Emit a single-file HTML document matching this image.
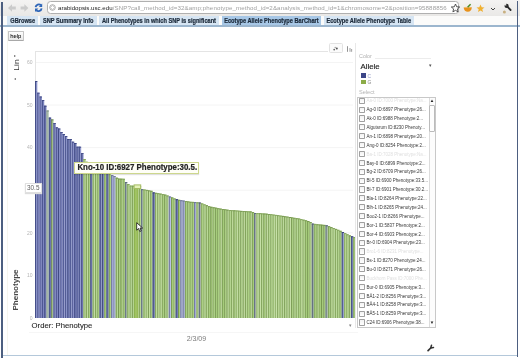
<!DOCTYPE html>
<html><head><meta charset="utf-8">
<style>
*{margin:0;padding:0;box-sizing:border-box}
html,body{width:520px;height:359px;overflow:hidden;background:#fff;font-family:"Liberation Sans",sans-serif;position:relative}
.a{position:absolute}
#toolbar{left:0;top:0;width:520px;height:15.5px;background:linear-gradient(#f4f3f2,#e9e8e6);}
#url{left:47.3px;top:1.2px;height:13.2px;border:1px solid #b0b0b0;border-radius:3.5px;background:#fff;width:411.5px}
#urltext{left:58px;top:4.4px;font-size:6.15px;color:#1a1a1a;white-space:nowrap;line-height:7px}
#urltext span{color:#a0a0a0;letter-spacing:0.11px;-webkit-text-stroke:0}
#tabrow{left:0;top:15.5px;width:520px;height:10px;background:#fbfbfa}
.tab{position:absolute;top:15.8px;height:9.8px;background:#d6e5f3;font-weight:bold;font-size:5.65px;color:#1c2a3a;line-height:11px;white-space:nowrap;text-align:center}
.tt{display:inline-block;transform:scaleY(1.12);-webkit-text-stroke:0.2px #1c2a3a}
#tabline{left:0;top:25.3px;width:520px;height:1.4px;background:#9cb6ce}
#lbar{left:1.2px;top:1.5px;width:1.7px;height:356px;background:#4d5f80}
#rbar{left:516.5px;top:1px;width:1.8px;height:356px;background:#4d5f80}
#bline{left:3px;top:355px;width:514px;height:1.3px;background:#b4c8da}
#help{left:8px;top:31.2px;width:15.6px;height:10px;border:1px solid #c4c4c4;border-bottom-color:#a8a8a8;border-radius:1px;background:linear-gradient(#fdfdfd,#e8e8e8);font-size:5.8px;line-height:8.4px;text-align:center;color:#111;-webkit-text-stroke:0.06px #111}
.row{position:absolute;left:358px;height:8.87px;width:70px}
.cb{position:absolute;left:1.3px;top:1.4px;width:6.2px;height:6.2px;border:0.8px solid #a0a0a0;background:linear-gradient(#f2f2f2,#fff);border-radius:0.8px}
.lt{position:absolute;left:8.5px;top:2.2px;font-size:4.5px;line-height:5px;color:#383838;white-space:nowrap}
.lt.g{color:#e0e0e0}
.yl{position:absolute;font-size:5px;color:#b4b4b4;width:10px;text-align:right;left:22.5px;line-height:5px}
</style></head><body style="will-change:transform">
<div id="toolbar" class="a"></div>
<!-- nav icons -->
<svg class="a" style="left:0;top:0" width="520" height="16">
  <path d="M8 8 L12 4.3 L12 6.5 L15.8 6.5 L15.8 9.5 L12 9.5 L12 11.7 Z" fill="#cbcbcb"/>
  <path d="M28.4 8 L24.4 4.3 L24.4 6.5 L20.6 6.5 L20.6 9.5 L24.4 9.5 L24.4 11.7 Z" fill="#cbcbcb"/>
  <path d="M35.6 7.2 A3.3 3.3 0 0 1 41 5.2" stroke="#2f66b8" stroke-width="1.9" fill="none"/>
  <path d="M42.2 3.4 L42.2 7 L38.8 7 Z" fill="#2f66b8"/>
  <path d="M41.6 8.3 A3.3 3.3 0 0 1 36.2 10.3" stroke="#2f66b8" stroke-width="1.9" fill="none"/>
  <path d="M35 12.1 L35 8.5 L38.4 8.5 Z" fill="#2f66b8"/>
</svg>
<div id="url" class="a"></div>
<svg class="a" style="left:49.3px;top:4.3px" width="8" height="8"><circle cx="3.5" cy="3.5" r="2.8" stroke="#888" stroke-width="0.7" fill="none"/><path d="M1.5 3.5 L3.5 1.5 L5.5 3.5 L3.5 5.5Z" fill="none" stroke="#999" stroke-width="0.5"/></svg>
<div id="urltext" class="a">arabidopsis.usc.edu<span>/SNP?call_method_id=32&amp;amp;phenotype_method_id=2&amp;analysis_method_id=1&amp;chromosome=2&amp;position=95888856</span></div>
<svg class="a" style="left:450.7px;top:3px" width="70" height="12">
  <path d="M4.5 1 L5.7 3.8 L8.7 4 L6.4 5.9 L7.1 8.9 L4.5 7.3 L1.9 8.9 L2.6 5.9 L0.3 4 L3.3 3.8 Z" fill="none" stroke="#444" stroke-width="0.9"/>
  <path d="M12.6 4.6 L20.8 4.2 Q20.6 8.6 16.8 8.8 Q13.2 8.8 12.6 4.6Z" fill="#e8921c"/>
  <path d="M13.2 4.6 Q15 3.2 16.6 4.4 Q18.4 3 20.4 4.3" fill="#f4b860"/>
  <path d="M16.6 4.2 L19.6 1.2" stroke="#4e8a22" stroke-width="1.5"/>
  <path d="M29.5 1.5 L30.7 4.2 L33.5 4.4 L31.3 6.2 L32 9 L29.5 7.5 L27 9 L27.7 6.2 L25.5 4.4 L28.3 4.2 Z" fill="#f0b030"/>
  <path d="M40 5 L42 7 L44 5" stroke="#444" stroke-width="1" fill="none"/>
  <circle cx="53.4" cy="9" r="1.5" fill="#c8b080"/>
  <path d="M56.6 3.9 L59.6 7" stroke="#2a2a2a" stroke-width="1.8" stroke-linecap="round" fill="none"/>
  <circle cx="55.6" cy="2.9" r="2.1" fill="#2a2a2a"/>
  <path d="M55.2 2.4 L53 0.2" stroke="#efeeec" stroke-width="1.3" fill="none"/>
</svg>
<div id="tabrow" class="a"></div>
<div class="tab" style="left:7.4px;width:30.6px"><span class="tt">GBrowse</span></div>
<div class="tab" style="left:39.7px;width:57.1px"><span class="tt">SNP Summary Info</span></div>
<div class="tab" style="left:99px;width:120px"><span class="tt">All Phenotypes in which SNP is significant</span></div>
<div class="tab" style="left:221.5px;width:99.8px;background:#a7c7e6"><span class="tt">Ecotype Allele Phenotype BarChart</span></div>
<div class="tab" style="left:323.5px;width:90.5px"><span class="tt">Ecotype Allele Phenotype Table</span></div>
<div id="tabline" class="a"></div>
<div id="help" class="a">help</div>

<!-- chart -->
<svg class="a" style="left:0;top:0" width="520" height="359">
  <line x1="35" y1="51.5" x2="328" y2="51.5" stroke="#e4e4e4" stroke-width="1"/>
  <line x1="35.5" y1="51.5" x2="35.5" y2="318" stroke="#e4e4e4" stroke-width="1"/>
  <line x1="36" y1="62.5" x2="353" y2="62.5" stroke="#f4f4f4" stroke-width="1"/><line x1="36" y1="105" x2="353" y2="105" stroke="#f4f4f4" stroke-width="1"/><line x1="36" y1="147.6" x2="353" y2="147.6" stroke="#f4f4f4" stroke-width="1"/><line x1="36" y1="190.2" x2="353" y2="190.2" stroke="#f4f4f4" stroke-width="1"/><line x1="36" y1="232.8" x2="353" y2="232.8" stroke="#f4f4f4" stroke-width="1"/><line x1="36" y1="275.4" x2="353" y2="275.4" stroke="#f4f4f4" stroke-width="1"/>
  <rect x="35.00" y="81.0" width="2.31" height="237.0" fill="#8a92c8"/>
<rect x="35.00" y="81.0" width="0.9" height="237.0" fill="#3e4882"/>
<rect x="35.00" y="81.0" width="2.31" height="1" fill="#3e4882"/>
<rect x="37.31" y="92.7" width="2.31" height="225.3" fill="#7e86c0"/>
<rect x="37.31" y="92.7" width="0.8" height="225.3" fill="#4a528c"/>
<rect x="39.31" y="93.7" width="0.3" height="224.3" fill="#ccd2f0"/>
<rect x="37.31" y="92.7" width="2.31" height="1" fill="#4a528c"/>
<rect x="39.61" y="96.5" width="2.31" height="221.5" fill="#7e86c0"/>
<rect x="39.61" y="96.5" width="0.8" height="221.5" fill="#4a528c"/>
<rect x="39.61" y="96.5" width="2.31" height="1" fill="#4a528c"/>
<rect x="41.92" y="100.0" width="2.31" height="218.0" fill="#7e86c0"/>
<rect x="41.92" y="100.0" width="0.9" height="218.0" fill="#444e88"/>
<rect x="41.92" y="100.0" width="2.31" height="1" fill="#444e88"/>
<rect x="44.23" y="105.7" width="2.31" height="212.3" fill="#767eb8"/>
<rect x="44.23" y="105.7" width="1.0" height="212.3" fill="#3e4882"/>
<rect x="46.08" y="106.7" width="0.45" height="211.3" fill="#ccd2f0"/>
<rect x="44.23" y="105.7" width="2.31" height="1" fill="#3e4882"/>
<rect x="46.53" y="110.5" width="2.31" height="207.5" fill="#b8ccb8"/>
<rect x="46.53" y="110.5" width="0.8" height="207.5" fill="#7a8a84"/>
<rect x="46.53" y="110.5" width="2.31" height="1" fill="#7a8a84"/>
<rect x="48.84" y="117.6" width="2.31" height="200.4" fill="#6e76b2"/>
<rect x="48.84" y="117.6" width="0.8" height="200.4" fill="#3e4882"/>
<rect x="48.84" y="117.6" width="2.31" height="1" fill="#3e4882"/>
<rect x="51.15" y="119.4" width="2.31" height="198.6" fill="#a4c08c"/>
<rect x="51.15" y="119.4" width="0.9" height="198.6" fill="#6c845c"/>
<rect x="51.15" y="119.4" width="2.31" height="1" fill="#6c845c"/>
<rect x="53.45" y="123.0" width="2.31" height="195.0" fill="#7e86c0"/>
<rect x="53.45" y="123.0" width="0.9" height="195.0" fill="#4a528c"/>
<rect x="53.45" y="123.0" width="2.31" height="1" fill="#4a528c"/>
<rect x="55.76" y="127.3" width="2.31" height="190.7" fill="#7e86c0"/>
<rect x="55.76" y="127.3" width="1.0" height="190.7" fill="#4a528c"/>
<rect x="55.76" y="127.3" width="2.31" height="1" fill="#4a528c"/>
<rect x="58.06" y="128.5" width="2.31" height="189.5" fill="#8a92c8"/>
<rect x="58.06" y="128.5" width="1.0" height="189.5" fill="#3e4882"/>
<rect x="58.06" y="128.5" width="2.31" height="1" fill="#3e4882"/>
<rect x="60.37" y="132.0" width="2.31" height="186.0" fill="#7e86c0"/>
<rect x="60.37" y="132.0" width="0.8" height="186.0" fill="#4a528c"/>
<rect x="62.23" y="133.0" width="0.45" height="185.0" fill="#ccd2f0"/>
<rect x="60.37" y="132.0" width="2.31" height="1" fill="#4a528c"/>
<rect x="62.68" y="134.0" width="2.31" height="184.0" fill="#6e76b2"/>
<rect x="62.68" y="134.0" width="0.9" height="184.0" fill="#444e88"/>
<rect x="64.53" y="135.0" width="0.45" height="183.0" fill="#ccd2f0"/>
<rect x="62.68" y="134.0" width="2.31" height="1" fill="#444e88"/>
<rect x="64.98" y="136.0" width="2.31" height="182.0" fill="#8a92c8"/>
<rect x="64.98" y="136.0" width="0.8" height="182.0" fill="#444e88"/>
<rect x="64.98" y="136.0" width="2.31" height="1" fill="#444e88"/>
<rect x="67.29" y="139.0" width="2.31" height="179.0" fill="#767eb8"/>
<rect x="67.29" y="139.0" width="1.0" height="179.0" fill="#3e4882"/>
<rect x="69.30" y="140.0" width="0.3" height="178.0" fill="#ccd2f0"/>
<rect x="67.29" y="139.0" width="2.31" height="1" fill="#3e4882"/>
<rect x="69.60" y="139.0" width="2.31" height="179.0" fill="#6e76b2"/>
<rect x="69.60" y="139.0" width="1.0" height="179.0" fill="#444e88"/>
<rect x="71.45" y="140.0" width="0.45" height="178.0" fill="#ccd2f0"/>
<rect x="69.60" y="139.0" width="2.31" height="1" fill="#444e88"/>
<rect x="71.90" y="141.7" width="2.31" height="176.3" fill="#8a92c8"/>
<rect x="71.90" y="141.7" width="0.8" height="176.3" fill="#4a528c"/>
<rect x="71.90" y="141.7" width="2.31" height="1" fill="#4a528c"/>
<rect x="74.21" y="143.0" width="2.31" height="175.0" fill="#6e76b2"/>
<rect x="74.21" y="143.0" width="0.9" height="175.0" fill="#3e4882"/>
<rect x="74.21" y="143.0" width="2.31" height="1" fill="#3e4882"/>
<rect x="76.52" y="146.7" width="2.31" height="171.3" fill="#6e76b2"/>
<rect x="76.52" y="146.7" width="0.8" height="171.3" fill="#444e88"/>
<rect x="76.52" y="146.7" width="2.31" height="1" fill="#444e88"/>
<rect x="78.82" y="146.7" width="2.31" height="171.3" fill="#8a92c8"/>
<rect x="78.82" y="146.7" width="1.0" height="171.3" fill="#444e88"/>
<rect x="80.83" y="147.7" width="0.3" height="170.3" fill="#ccd2f0"/>
<rect x="78.82" y="146.7" width="2.31" height="1" fill="#444e88"/>
<rect x="81.13" y="153.0" width="2.31" height="165.0" fill="#6e76b2"/>
<rect x="81.13" y="153.0" width="0.9" height="165.0" fill="#4a528c"/>
<rect x="81.13" y="153.0" width="2.31" height="1" fill="#4a528c"/>
<rect x="83.44" y="159.0" width="2.31" height="159.0" fill="#b4d490"/>
<rect x="83.44" y="159.0" width="0.9" height="159.0" fill="#86a660"/>
<rect x="83.44" y="159.0" width="2.31" height="1" fill="#86a660"/>
<rect x="85.74" y="161.8" width="2.31" height="156.2" fill="#b4d490"/>
<rect x="85.74" y="161.8" width="1.0" height="156.2" fill="#789852"/>
<rect x="87.75" y="162.8" width="0.3" height="155.2" fill="#e2eed0"/>
<rect x="85.74" y="161.8" width="2.31" height="1" fill="#789852"/>
<rect x="88.05" y="162.7" width="2.31" height="155.3" fill="#a6cc7c"/>
<rect x="88.05" y="162.7" width="1.0" height="155.3" fill="#86a660"/>
<rect x="89.91" y="163.7" width="0.45" height="154.3" fill="#e2eed0"/>
<rect x="88.05" y="162.7" width="2.31" height="1" fill="#86a660"/>
<rect x="90.36" y="163.6" width="2.31" height="154.4" fill="#7680b6"/>
<rect x="90.36" y="163.6" width="0.9" height="154.4" fill="#3a4476"/>
<rect x="92.36" y="164.6" width="0.3" height="153.4" fill="#d0d8ee"/>
<rect x="90.36" y="163.6" width="2.31" height="1" fill="#3a4476"/>
<rect x="92.66" y="164.5" width="2.31" height="153.5" fill="#acd084"/>
<rect x="92.66" y="164.5" width="0.8" height="153.5" fill="#789852"/>
<rect x="94.52" y="165.5" width="0.45" height="152.5" fill="#e2eed0"/>
<rect x="92.66" y="164.5" width="2.31" height="1" fill="#789852"/>
<rect x="94.97" y="165.6" width="2.31" height="152.4" fill="#b4d490"/>
<rect x="94.97" y="165.6" width="0.9" height="152.4" fill="#7e9e58"/>
<rect x="94.97" y="165.6" width="2.31" height="1" fill="#7e9e58"/>
<rect x="97.27" y="166.7" width="2.31" height="151.3" fill="#acd084"/>
<rect x="97.27" y="166.7" width="0.9" height="151.3" fill="#86a660"/>
<rect x="99.13" y="167.7" width="0.45" height="150.3" fill="#e2eed0"/>
<rect x="97.27" y="166.7" width="2.31" height="1" fill="#86a660"/>
<rect x="99.58" y="167.9" width="2.31" height="150.1" fill="#6e78b0"/>
<rect x="99.58" y="167.9" width="0.9" height="150.1" fill="#3a4476"/>
<rect x="101.44" y="168.9" width="0.45" height="149.1" fill="#d0d8ee"/>
<rect x="99.58" y="167.9" width="2.31" height="1" fill="#3a4476"/>
<rect x="101.89" y="169.0" width="2.31" height="149.0" fill="#7680b6"/>
<rect x="101.89" y="169.0" width="0.9" height="149.0" fill="#3a4476"/>
<rect x="103.89" y="170.0" width="0.3" height="148.0" fill="#d0d8ee"/>
<rect x="101.89" y="169.0" width="2.31" height="1" fill="#3a4476"/>
<rect x="104.19" y="170.2" width="2.31" height="147.8" fill="#a6cc7c"/>
<rect x="104.19" y="170.2" width="1.0" height="147.8" fill="#86a660"/>
<rect x="106.05" y="171.2" width="0.45" height="146.8" fill="#e2eed0"/>
<rect x="104.19" y="170.2" width="2.31" height="1" fill="#86a660"/>
<rect x="106.50" y="171.5" width="2.31" height="146.5" fill="#6e78b0"/>
<rect x="106.50" y="171.5" width="0.8" height="146.5" fill="#3a4476"/>
<rect x="106.50" y="171.5" width="2.31" height="1" fill="#3a4476"/>
<rect x="108.81" y="172.8" width="2.31" height="145.2" fill="#acd084"/>
<rect x="108.81" y="172.8" width="1.0" height="145.2" fill="#7e9e58"/>
<rect x="108.81" y="172.8" width="2.31" height="1" fill="#7e9e58"/>
<rect x="111.11" y="175.1" width="2.31" height="142.9" fill="#a8b0dc"/>
<rect x="111.11" y="175.1" width="1.0" height="142.9" fill="#707898"/>
<rect x="111.11" y="175.1" width="2.31" height="1" fill="#707898"/>
<rect x="113.42" y="176.1" width="2.31" height="141.9" fill="#b0b8e0"/>
<rect x="113.42" y="176.1" width="0.8" height="141.9" fill="#707898"/>
<rect x="113.42" y="176.1" width="2.31" height="1" fill="#707898"/>
<rect x="115.73" y="177.7" width="2.31" height="140.3" fill="#a6cc7c"/>
<rect x="115.73" y="177.7" width="0.9" height="140.3" fill="#789852"/>
<rect x="117.73" y="178.7" width="0.3" height="139.3" fill="#e2eed0"/>
<rect x="115.73" y="177.7" width="2.31" height="1" fill="#789852"/>
<rect x="118.03" y="178.6" width="2.31" height="139.4" fill="#acd084"/>
<rect x="118.03" y="178.6" width="1.0" height="139.4" fill="#789852"/>
<rect x="118.03" y="178.6" width="2.31" height="1" fill="#789852"/>
<rect x="120.34" y="178.7" width="2.31" height="139.3" fill="#a6cc7c"/>
<rect x="120.34" y="178.7" width="1.0" height="139.3" fill="#789852"/>
<rect x="122.20" y="179.7" width="0.45" height="138.3" fill="#e2eed0"/>
<rect x="120.34" y="178.7" width="2.31" height="1" fill="#789852"/>
<rect x="122.65" y="178.8" width="2.31" height="139.2" fill="#a6cc7c"/>
<rect x="122.65" y="178.8" width="0.9" height="139.2" fill="#86a660"/>
<rect x="122.65" y="178.8" width="2.31" height="1" fill="#86a660"/>
<rect x="124.95" y="182.0" width="2.31" height="136.0" fill="#9cb0a0"/>
<rect x="124.95" y="182.0" width="0.8" height="136.0" fill="#5e6a80"/>
<rect x="124.95" y="182.0" width="2.31" height="1" fill="#5e6a80"/>
<rect x="127.26" y="184.1" width="2.31" height="133.9" fill="#b4d490"/>
<rect x="127.26" y="184.1" width="0.9" height="133.9" fill="#7e9e58"/>
<rect x="127.26" y="184.1" width="2.31" height="1" fill="#7e9e58"/>
<rect x="129.57" y="185.6" width="2.31" height="132.4" fill="#b4d490"/>
<rect x="129.57" y="185.6" width="1.0" height="132.4" fill="#86a660"/>
<rect x="129.57" y="185.6" width="2.31" height="1" fill="#86a660"/>
<rect x="131.87" y="185.7" width="2.31" height="132.3" fill="#b4d490"/>
<rect x="131.87" y="185.7" width="1.0" height="132.3" fill="#7e9e58"/>
<rect x="131.87" y="185.7" width="2.31" height="1" fill="#7e9e58"/>
<rect x="134.18" y="185.8" width="2.31" height="132.2" fill="#a6cc64"/>
<rect x="134.18" y="185.8" width="1.0" height="132.2" fill="#86aa48"/>
<rect x="134.18" y="185.8" width="2.31" height="1" fill="#86aa48"/>
<rect x="136.48" y="185.9" width="2.31" height="132.1" fill="#a6cc64"/>
<rect x="136.48" y="185.9" width="1.0" height="132.1" fill="#86aa48"/>
<rect x="138.34" y="186.9" width="0.45" height="131.1" fill="#e4f0cc"/>
<rect x="136.48" y="185.9" width="2.31" height="1" fill="#86aa48"/>
<rect x="138.79" y="186.0" width="2.31" height="132.0" fill="#acd084"/>
<rect x="138.79" y="186.0" width="0.9" height="132.0" fill="#789852"/>
<rect x="140.80" y="187.0" width="0.3" height="131.0" fill="#e2eed0"/>
<rect x="138.79" y="186.0" width="2.31" height="1" fill="#789852"/>
<rect x="141.10" y="189.2" width="2.31" height="128.8" fill="#9cb0a0"/>
<rect x="141.10" y="189.2" width="0.8" height="128.8" fill="#5e6a80"/>
<rect x="141.10" y="189.2" width="2.31" height="1" fill="#5e6a80"/>
<rect x="143.40" y="189.5" width="2.31" height="128.5" fill="#a6cc7c"/>
<rect x="143.40" y="189.5" width="0.9" height="128.5" fill="#86a660"/>
<rect x="145.26" y="190.5" width="0.45" height="127.5" fill="#e2eed0"/>
<rect x="143.40" y="189.5" width="2.31" height="1" fill="#86a660"/>
<rect x="145.71" y="189.9" width="2.31" height="128.1" fill="#bcda98"/>
<rect x="145.71" y="189.9" width="0.8" height="128.1" fill="#7e9e58"/>
<rect x="145.71" y="189.9" width="2.31" height="1" fill="#7e9e58"/>
<rect x="148.02" y="190.4" width="2.31" height="127.6" fill="#bcda98"/>
<rect x="148.02" y="190.4" width="0.9" height="127.6" fill="#789852"/>
<rect x="149.87" y="191.4" width="0.45" height="126.6" fill="#e2eed0"/>
<rect x="148.02" y="190.4" width="2.31" height="1" fill="#789852"/>
<rect x="150.32" y="190.8" width="2.31" height="127.2" fill="#acd084"/>
<rect x="150.32" y="190.8" width="0.8" height="127.2" fill="#789852"/>
<rect x="150.32" y="190.8" width="2.31" height="1" fill="#789852"/>
<rect x="152.63" y="192.4" width="2.31" height="125.6" fill="#7680b6"/>
<rect x="152.63" y="192.4" width="1.0" height="125.6" fill="#3a4476"/>
<rect x="152.63" y="192.4" width="2.31" height="1" fill="#3a4476"/>
<rect x="154.94" y="192.8" width="2.31" height="125.2" fill="#bcda98"/>
<rect x="154.94" y="192.8" width="0.8" height="125.2" fill="#789852"/>
<rect x="156.94" y="193.8" width="0.3" height="124.2" fill="#e2eed0"/>
<rect x="154.94" y="192.8" width="2.31" height="1" fill="#789852"/>
<rect x="157.24" y="193.2" width="2.31" height="124.8" fill="#bcda98"/>
<rect x="157.24" y="193.2" width="0.9" height="124.8" fill="#7e9e58"/>
<rect x="157.24" y="193.2" width="2.31" height="1" fill="#7e9e58"/>
<rect x="159.55" y="193.6" width="2.31" height="124.4" fill="#bcda98"/>
<rect x="159.55" y="193.6" width="0.8" height="124.4" fill="#789852"/>
<rect x="159.55" y="193.6" width="2.31" height="1" fill="#789852"/>
<rect x="161.86" y="194.1" width="2.31" height="123.9" fill="#acd084"/>
<rect x="161.86" y="194.1" width="1.0" height="123.9" fill="#86a660"/>
<rect x="161.86" y="194.1" width="2.31" height="1" fill="#86a660"/>
<rect x="164.16" y="194.6" width="2.31" height="123.4" fill="#acd084"/>
<rect x="164.16" y="194.6" width="0.9" height="123.4" fill="#789852"/>
<rect x="166.17" y="195.6" width="0.3" height="122.4" fill="#e2eed0"/>
<rect x="164.16" y="194.6" width="2.31" height="1" fill="#789852"/>
<rect x="166.47" y="195.5" width="2.31" height="122.5" fill="#b4d490"/>
<rect x="166.47" y="195.5" width="0.9" height="122.5" fill="#7e9e58"/>
<rect x="168.33" y="196.5" width="0.45" height="121.5" fill="#e2eed0"/>
<rect x="166.47" y="195.5" width="2.31" height="1" fill="#7e9e58"/>
<rect x="168.78" y="196.5" width="2.31" height="121.5" fill="#b0b8e0"/>
<rect x="168.78" y="196.5" width="1.0" height="121.5" fill="#6a7298"/>
<rect x="170.78" y="197.5" width="0.3" height="120.5" fill="#e0e4f4"/>
<rect x="168.78" y="196.5" width="2.31" height="1" fill="#6a7298"/>
<rect x="171.08" y="197.4" width="2.31" height="120.6" fill="#a6cc7c"/>
<rect x="171.08" y="197.4" width="0.9" height="120.6" fill="#789852"/>
<rect x="173.09" y="198.4" width="0.3" height="119.6" fill="#e2eed0"/>
<rect x="171.08" y="197.4" width="2.31" height="1" fill="#789852"/>
<rect x="173.39" y="198.4" width="2.31" height="119.6" fill="#b4d490"/>
<rect x="173.39" y="198.4" width="0.8" height="119.6" fill="#7e9e58"/>
<rect x="173.39" y="198.4" width="2.31" height="1" fill="#7e9e58"/>
<rect x="175.69" y="199.2" width="2.31" height="118.8" fill="#7680b6"/>
<rect x="175.69" y="199.2" width="0.9" height="118.8" fill="#3a4476"/>
<rect x="175.69" y="199.2" width="2.31" height="1" fill="#3a4476"/>
<rect x="178.00" y="199.8" width="2.31" height="118.2" fill="#a6cc7c"/>
<rect x="178.00" y="199.8" width="1.0" height="118.2" fill="#789852"/>
<rect x="178.00" y="199.8" width="2.31" height="1" fill="#789852"/>
<rect x="180.31" y="200.2" width="2.31" height="117.8" fill="#b0b8e0"/>
<rect x="180.31" y="200.2" width="1.0" height="117.8" fill="#707898"/>
<rect x="180.31" y="200.2" width="2.31" height="1" fill="#707898"/>
<rect x="182.61" y="200.6" width="2.31" height="117.4" fill="#a8b0dc"/>
<rect x="182.61" y="200.6" width="1.0" height="117.4" fill="#707898"/>
<rect x="182.61" y="200.6" width="2.31" height="1" fill="#707898"/>
<rect x="184.92" y="201.0" width="2.31" height="117.0" fill="#a6cc7c"/>
<rect x="184.92" y="201.0" width="0.9" height="117.0" fill="#7e9e58"/>
<rect x="186.93" y="202.0" width="0.3" height="116.0" fill="#e2eed0"/>
<rect x="184.92" y="201.0" width="2.31" height="1" fill="#7e9e58"/>
<rect x="187.23" y="201.4" width="2.31" height="116.6" fill="#b4d490"/>
<rect x="187.23" y="201.4" width="0.9" height="116.6" fill="#789852"/>
<rect x="189.08" y="202.4" width="0.45" height="115.6" fill="#e2eed0"/>
<rect x="187.23" y="201.4" width="2.31" height="1" fill="#789852"/>
<rect x="189.53" y="201.8" width="2.31" height="116.2" fill="#a6cc7c"/>
<rect x="189.53" y="201.8" width="0.8" height="116.2" fill="#789852"/>
<rect x="189.53" y="201.8" width="2.31" height="1" fill="#789852"/>
<rect x="191.84" y="201.9" width="2.31" height="116.1" fill="#acd084"/>
<rect x="191.84" y="201.9" width="0.8" height="116.1" fill="#7e9e58"/>
<rect x="191.84" y="201.9" width="2.31" height="1" fill="#7e9e58"/>
<rect x="194.15" y="202.1" width="2.31" height="115.9" fill="#b0b8e0"/>
<rect x="194.15" y="202.1" width="1.0" height="115.9" fill="#6a7298"/>
<rect x="196.00" y="203.1" width="0.45" height="114.9" fill="#e0e4f4"/>
<rect x="194.15" y="202.1" width="2.31" height="1" fill="#6a7298"/>
<rect x="196.45" y="202.3" width="2.31" height="115.7" fill="#bcda98"/>
<rect x="196.45" y="202.3" width="1.0" height="115.7" fill="#7e9e58"/>
<rect x="196.45" y="202.3" width="2.31" height="1" fill="#7e9e58"/>
<rect x="198.76" y="202.5" width="2.31" height="115.5" fill="#a8b4a8"/>
<rect x="198.76" y="202.5" width="1.0" height="115.5" fill="#56627a"/>
<rect x="198.76" y="202.5" width="2.31" height="1" fill="#56627a"/>
<rect x="201.07" y="203.4" width="2.31" height="114.6" fill="#acd084"/>
<rect x="201.07" y="203.4" width="0.8" height="114.6" fill="#86a660"/>
<rect x="201.07" y="203.4" width="2.31" height="1" fill="#86a660"/>
<rect x="203.37" y="204.3" width="2.31" height="113.7" fill="#b4d490"/>
<rect x="203.37" y="204.3" width="0.8" height="113.7" fill="#86a660"/>
<rect x="205.38" y="205.3" width="0.3" height="112.7" fill="#e2eed0"/>
<rect x="203.37" y="204.3" width="2.31" height="1" fill="#86a660"/>
<rect x="205.68" y="205.2" width="2.31" height="112.8" fill="#acd084"/>
<rect x="205.68" y="205.2" width="0.9" height="112.8" fill="#789852"/>
<rect x="207.69" y="206.2" width="0.3" height="111.8" fill="#e2eed0"/>
<rect x="205.68" y="205.2" width="2.31" height="1" fill="#789852"/>
<rect x="207.99" y="206.2" width="2.31" height="111.8" fill="#a6cc7c"/>
<rect x="207.99" y="206.2" width="0.8" height="111.8" fill="#7e9e58"/>
<rect x="209.99" y="207.2" width="0.3" height="110.8" fill="#e2eed0"/>
<rect x="207.99" y="206.2" width="2.31" height="1" fill="#7e9e58"/>
<rect x="210.29" y="206.8" width="2.31" height="111.2" fill="#a6cc7c"/>
<rect x="210.29" y="206.8" width="1.0" height="111.2" fill="#789852"/>
<rect x="212.15" y="207.8" width="0.45" height="110.2" fill="#e2eed0"/>
<rect x="210.29" y="206.8" width="2.31" height="1" fill="#789852"/>
<rect x="212.60" y="207.3" width="2.31" height="110.7" fill="#acd084"/>
<rect x="212.60" y="207.3" width="0.8" height="110.7" fill="#789852"/>
<rect x="212.60" y="207.3" width="2.31" height="1" fill="#789852"/>
<rect x="214.91" y="207.7" width="2.31" height="110.3" fill="#a6cc7c"/>
<rect x="214.91" y="207.7" width="1.0" height="110.3" fill="#7e9e58"/>
<rect x="214.91" y="207.7" width="2.31" height="1" fill="#7e9e58"/>
<rect x="217.21" y="208.2" width="2.31" height="109.8" fill="#acd084"/>
<rect x="217.21" y="208.2" width="0.8" height="109.8" fill="#7e9e58"/>
<rect x="219.07" y="209.2" width="0.45" height="108.8" fill="#e2eed0"/>
<rect x="217.21" y="208.2" width="2.31" height="1" fill="#7e9e58"/>
<rect x="219.52" y="208.6" width="2.31" height="109.4" fill="#b4d490"/>
<rect x="219.52" y="208.6" width="0.8" height="109.4" fill="#789852"/>
<rect x="221.52" y="209.6" width="0.3" height="108.4" fill="#e2eed0"/>
<rect x="219.52" y="208.6" width="2.31" height="1" fill="#789852"/>
<rect x="221.82" y="209.0" width="2.31" height="109.0" fill="#a6cc7c"/>
<rect x="221.82" y="209.0" width="1.0" height="109.0" fill="#7e9e58"/>
<rect x="221.82" y="209.0" width="2.31" height="1" fill="#7e9e58"/>
<rect x="224.13" y="209.3" width="2.31" height="108.7" fill="#acd084"/>
<rect x="224.13" y="209.3" width="0.9" height="108.7" fill="#7e9e58"/>
<rect x="224.13" y="209.3" width="2.31" height="1" fill="#7e9e58"/>
<rect x="226.44" y="209.7" width="2.31" height="108.3" fill="#b4d490"/>
<rect x="226.44" y="209.7" width="0.9" height="108.3" fill="#789852"/>
<rect x="226.44" y="209.7" width="2.31" height="1" fill="#789852"/>
<rect x="228.74" y="210.0" width="2.31" height="108.0" fill="#b4d490"/>
<rect x="228.74" y="210.0" width="0.9" height="108.0" fill="#86a660"/>
<rect x="228.74" y="210.0" width="2.31" height="1" fill="#86a660"/>
<rect x="231.05" y="210.2" width="2.31" height="107.8" fill="#bcda98"/>
<rect x="231.05" y="210.2" width="1.0" height="107.8" fill="#86a660"/>
<rect x="232.91" y="211.2" width="0.45" height="106.8" fill="#e2eed0"/>
<rect x="231.05" y="210.2" width="2.31" height="1" fill="#86a660"/>
<rect x="233.36" y="210.3" width="2.31" height="107.7" fill="#acd084"/>
<rect x="233.36" y="210.3" width="1.0" height="107.7" fill="#789852"/>
<rect x="235.36" y="211.3" width="0.3" height="106.7" fill="#e2eed0"/>
<rect x="233.36" y="210.3" width="2.31" height="1" fill="#789852"/>
<rect x="235.66" y="210.5" width="2.31" height="107.5" fill="#acd084"/>
<rect x="235.66" y="210.5" width="0.8" height="107.5" fill="#86a660"/>
<rect x="237.52" y="211.5" width="0.45" height="106.5" fill="#e2eed0"/>
<rect x="235.66" y="210.5" width="2.31" height="1" fill="#86a660"/>
<rect x="237.97" y="210.7" width="2.31" height="107.3" fill="#b4d490"/>
<rect x="237.97" y="210.7" width="0.9" height="107.3" fill="#86a660"/>
<rect x="239.98" y="211.7" width="0.3" height="106.3" fill="#e2eed0"/>
<rect x="237.97" y="210.7" width="2.31" height="1" fill="#86a660"/>
<rect x="240.28" y="210.9" width="2.31" height="107.1" fill="#b4d490"/>
<rect x="240.28" y="210.9" width="0.8" height="107.1" fill="#789852"/>
<rect x="242.13" y="211.9" width="0.45" height="106.1" fill="#e2eed0"/>
<rect x="240.28" y="210.9" width="2.31" height="1" fill="#789852"/>
<rect x="242.58" y="211.0" width="2.31" height="107.0" fill="#b4d490"/>
<rect x="242.58" y="211.0" width="1.0" height="107.0" fill="#7e9e58"/>
<rect x="244.59" y="212.0" width="0.3" height="106.0" fill="#e2eed0"/>
<rect x="242.58" y="211.0" width="2.31" height="1" fill="#7e9e58"/>
<rect x="244.89" y="211.2" width="2.31" height="106.8" fill="#b4d490"/>
<rect x="244.89" y="211.2" width="1.0" height="106.8" fill="#7e9e58"/>
<rect x="246.90" y="212.2" width="0.3" height="105.8" fill="#e2eed0"/>
<rect x="244.89" y="211.2" width="2.31" height="1" fill="#7e9e58"/>
<rect x="247.20" y="211.3" width="2.31" height="106.7" fill="#acd084"/>
<rect x="247.20" y="211.3" width="0.8" height="106.7" fill="#86a660"/>
<rect x="249.05" y="212.3" width="0.45" height="105.7" fill="#e2eed0"/>
<rect x="247.20" y="211.3" width="2.31" height="1" fill="#86a660"/>
<rect x="249.50" y="211.4" width="2.31" height="106.6" fill="#acd084"/>
<rect x="249.50" y="211.4" width="0.8" height="106.6" fill="#789852"/>
<rect x="251.36" y="212.4" width="0.45" height="105.6" fill="#e2eed0"/>
<rect x="249.50" y="211.4" width="2.31" height="1" fill="#789852"/>
<rect x="251.81" y="212.0" width="2.31" height="106.0" fill="#a6cc7c"/>
<rect x="251.81" y="212.0" width="1.0" height="106.0" fill="#7e9e58"/>
<rect x="251.81" y="212.0" width="2.31" height="1" fill="#7e9e58"/>
<rect x="254.12" y="213.0" width="2.31" height="105.0" fill="#a8b4a8"/>
<rect x="254.12" y="213.0" width="1.0" height="105.0" fill="#5e6a80"/>
<rect x="255.97" y="214.0" width="0.45" height="104.0" fill="#e0e8e0"/>
<rect x="254.12" y="213.0" width="2.31" height="1" fill="#5e6a80"/>
<rect x="256.42" y="213.1" width="2.31" height="104.9" fill="#bcda98"/>
<rect x="256.42" y="213.1" width="0.8" height="104.9" fill="#86a660"/>
<rect x="258.43" y="214.1" width="0.3" height="103.9" fill="#e2eed0"/>
<rect x="256.42" y="213.1" width="2.31" height="1" fill="#86a660"/>
<rect x="258.73" y="213.2" width="2.31" height="104.8" fill="#bcda98"/>
<rect x="258.73" y="213.2" width="1.0" height="104.8" fill="#7e9e58"/>
<rect x="260.73" y="214.2" width="0.3" height="103.8" fill="#e2eed0"/>
<rect x="258.73" y="213.2" width="2.31" height="1" fill="#7e9e58"/>
<rect x="261.03" y="213.4" width="2.31" height="104.6" fill="#b4d490"/>
<rect x="261.03" y="213.4" width="1.0" height="104.6" fill="#86a660"/>
<rect x="262.89" y="214.4" width="0.45" height="103.6" fill="#e2eed0"/>
<rect x="261.03" y="213.4" width="2.31" height="1" fill="#86a660"/>
<rect x="263.34" y="213.5" width="2.31" height="104.5" fill="#a6cc7c"/>
<rect x="263.34" y="213.5" width="0.8" height="104.5" fill="#789852"/>
<rect x="265.20" y="214.5" width="0.45" height="103.5" fill="#e2eed0"/>
<rect x="263.34" y="213.5" width="2.31" height="1" fill="#789852"/>
<rect x="265.65" y="213.7" width="2.31" height="104.3" fill="#bcda98"/>
<rect x="265.65" y="213.7" width="1.0" height="104.3" fill="#789852"/>
<rect x="267.65" y="214.7" width="0.3" height="103.3" fill="#e2eed0"/>
<rect x="265.65" y="213.7" width="2.31" height="1" fill="#789852"/>
<rect x="267.95" y="214.0" width="2.31" height="104.0" fill="#b4d490"/>
<rect x="267.95" y="214.0" width="0.8" height="104.0" fill="#7e9e58"/>
<rect x="267.95" y="214.0" width="2.31" height="1" fill="#7e9e58"/>
<rect x="270.26" y="214.2" width="2.31" height="103.8" fill="#b4d490"/>
<rect x="270.26" y="214.2" width="0.9" height="103.8" fill="#86a660"/>
<rect x="270.26" y="214.2" width="2.31" height="1" fill="#86a660"/>
<rect x="272.57" y="214.6" width="2.31" height="103.4" fill="#acd084"/>
<rect x="272.57" y="214.6" width="0.8" height="103.4" fill="#86a660"/>
<rect x="274.42" y="215.6" width="0.45" height="102.4" fill="#e2eed0"/>
<rect x="272.57" y="214.6" width="2.31" height="1" fill="#86a660"/>
<rect x="274.87" y="214.9" width="2.31" height="103.1" fill="#bcda98"/>
<rect x="274.87" y="214.9" width="0.8" height="103.1" fill="#86a660"/>
<rect x="276.73" y="215.9" width="0.45" height="102.1" fill="#e2eed0"/>
<rect x="274.87" y="214.9" width="2.31" height="1" fill="#86a660"/>
<rect x="277.18" y="215.2" width="2.31" height="102.8" fill="#bcda98"/>
<rect x="277.18" y="215.2" width="0.9" height="102.8" fill="#7e9e58"/>
<rect x="277.18" y="215.2" width="2.31" height="1" fill="#7e9e58"/>
<rect x="279.49" y="215.6" width="2.31" height="102.4" fill="#acd084"/>
<rect x="279.49" y="215.6" width="0.8" height="102.4" fill="#86a660"/>
<rect x="281.49" y="216.6" width="0.3" height="101.4" fill="#e2eed0"/>
<rect x="279.49" y="215.6" width="2.31" height="1" fill="#86a660"/>
<rect x="281.79" y="215.9" width="2.31" height="102.1" fill="#b4d490"/>
<rect x="281.79" y="215.9" width="0.8" height="102.1" fill="#789852"/>
<rect x="283.80" y="216.9" width="0.3" height="101.1" fill="#e2eed0"/>
<rect x="281.79" y="215.9" width="2.31" height="1" fill="#789852"/>
<rect x="284.10" y="216.3" width="2.31" height="101.7" fill="#b4d490"/>
<rect x="284.10" y="216.3" width="0.8" height="101.7" fill="#789852"/>
<rect x="284.10" y="216.3" width="2.31" height="1" fill="#789852"/>
<rect x="286.41" y="216.6" width="2.31" height="101.4" fill="#bcda98"/>
<rect x="286.41" y="216.6" width="0.9" height="101.4" fill="#7e9e58"/>
<rect x="286.41" y="216.6" width="2.31" height="1" fill="#7e9e58"/>
<rect x="288.71" y="217.0" width="2.31" height="101.0" fill="#bcda98"/>
<rect x="288.71" y="217.0" width="0.9" height="101.0" fill="#789852"/>
<rect x="290.72" y="218.0" width="0.3" height="100.0" fill="#e2eed0"/>
<rect x="288.71" y="217.0" width="2.31" height="1" fill="#789852"/>
<rect x="291.02" y="217.4" width="2.31" height="100.6" fill="#acd084"/>
<rect x="291.02" y="217.4" width="1.0" height="100.6" fill="#7e9e58"/>
<rect x="291.02" y="217.4" width="2.31" height="1" fill="#7e9e58"/>
<rect x="293.33" y="217.8" width="2.31" height="100.2" fill="#b4d490"/>
<rect x="293.33" y="217.8" width="0.9" height="100.2" fill="#7e9e58"/>
<rect x="293.33" y="217.8" width="2.31" height="1" fill="#7e9e58"/>
<rect x="295.63" y="218.2" width="2.31" height="99.8" fill="#acd084"/>
<rect x="295.63" y="218.2" width="0.9" height="99.8" fill="#7e9e58"/>
<rect x="297.64" y="219.2" width="0.3" height="98.8" fill="#e2eed0"/>
<rect x="295.63" y="218.2" width="2.31" height="1" fill="#7e9e58"/>
<rect x="297.94" y="218.5" width="2.31" height="99.5" fill="#acd084"/>
<rect x="297.94" y="218.5" width="0.9" height="99.5" fill="#86a660"/>
<rect x="297.94" y="218.5" width="2.31" height="1" fill="#86a660"/>
<rect x="300.24" y="219.1" width="2.31" height="98.9" fill="#bcda98"/>
<rect x="300.24" y="219.1" width="0.8" height="98.9" fill="#86a660"/>
<rect x="302.25" y="220.1" width="0.3" height="97.9" fill="#e2eed0"/>
<rect x="300.24" y="219.1" width="2.31" height="1" fill="#86a660"/>
<rect x="302.55" y="219.7" width="2.31" height="98.3" fill="#b4d490"/>
<rect x="302.55" y="219.7" width="0.8" height="98.3" fill="#7e9e58"/>
<rect x="302.55" y="219.7" width="2.31" height="1" fill="#7e9e58"/>
<rect x="304.86" y="220.3" width="2.31" height="97.7" fill="#a6cc7c"/>
<rect x="304.86" y="220.3" width="0.9" height="97.7" fill="#7e9e58"/>
<rect x="304.86" y="220.3" width="2.31" height="1" fill="#7e9e58"/>
<rect x="307.16" y="221.0" width="2.31" height="97.0" fill="#a6cc7c"/>
<rect x="307.16" y="221.0" width="0.9" height="97.0" fill="#789852"/>
<rect x="309.02" y="222.0" width="0.45" height="96.0" fill="#e2eed0"/>
<rect x="307.16" y="221.0" width="2.31" height="1" fill="#789852"/>
<rect x="309.47" y="222.1" width="2.31" height="95.9" fill="#bcda98"/>
<rect x="309.47" y="222.1" width="0.8" height="95.9" fill="#789852"/>
<rect x="309.47" y="222.1" width="2.31" height="1" fill="#789852"/>
<rect x="311.78" y="223.6" width="2.31" height="94.4" fill="#9cb0a0"/>
<rect x="311.78" y="223.6" width="1.0" height="94.4" fill="#56627a"/>
<rect x="311.78" y="223.6" width="2.31" height="1" fill="#56627a"/>
<rect x="314.08" y="223.9" width="2.31" height="94.1" fill="#a6cc7c"/>
<rect x="314.08" y="223.9" width="0.8" height="94.1" fill="#86a660"/>
<rect x="314.08" y="223.9" width="2.31" height="1" fill="#86a660"/>
<rect x="316.39" y="224.2" width="2.31" height="93.8" fill="#b4d490"/>
<rect x="316.39" y="224.2" width="1.0" height="93.8" fill="#7e9e58"/>
<rect x="318.40" y="225.2" width="0.3" height="92.8" fill="#e2eed0"/>
<rect x="316.39" y="224.2" width="2.31" height="1" fill="#7e9e58"/>
<rect x="318.70" y="224.5" width="2.31" height="93.5" fill="#a6cc7c"/>
<rect x="318.70" y="224.5" width="0.8" height="93.5" fill="#7e9e58"/>
<rect x="318.70" y="224.5" width="2.31" height="1" fill="#7e9e58"/>
<rect x="321.00" y="224.7" width="2.31" height="93.3" fill="#a6cc7c"/>
<rect x="321.00" y="224.7" width="1.0" height="93.3" fill="#789852"/>
<rect x="323.01" y="225.7" width="0.3" height="92.3" fill="#e2eed0"/>
<rect x="321.00" y="224.7" width="2.31" height="1" fill="#789852"/>
<rect x="323.31" y="224.9" width="2.31" height="93.1" fill="#acd084"/>
<rect x="323.31" y="224.9" width="0.9" height="93.1" fill="#789852"/>
<rect x="323.31" y="224.9" width="2.31" height="1" fill="#789852"/>
<rect x="325.62" y="225.3" width="2.31" height="92.7" fill="#9cb0a0"/>
<rect x="325.62" y="225.3" width="0.8" height="92.7" fill="#56627a"/>
<rect x="327.62" y="226.3" width="0.3" height="91.7" fill="#e0e8e0"/>
<rect x="325.62" y="225.3" width="2.31" height="1" fill="#56627a"/>
<rect x="327.92" y="226.2" width="2.31" height="91.8" fill="#a6cc7c"/>
<rect x="327.92" y="226.2" width="0.9" height="91.8" fill="#7e9e58"/>
<rect x="329.93" y="227.2" width="0.3" height="90.8" fill="#e2eed0"/>
<rect x="327.92" y="226.2" width="2.31" height="1" fill="#7e9e58"/>
<rect x="330.23" y="227.1" width="2.31" height="90.9" fill="#bcda98"/>
<rect x="330.23" y="227.1" width="0.9" height="90.9" fill="#789852"/>
<rect x="330.23" y="227.1" width="2.31" height="1" fill="#789852"/>
<rect x="332.54" y="228.0" width="2.31" height="90.0" fill="#b4d490"/>
<rect x="332.54" y="228.0" width="0.8" height="90.0" fill="#86a660"/>
<rect x="334.54" y="229.0" width="0.3" height="89.0" fill="#e2eed0"/>
<rect x="332.54" y="228.0" width="2.31" height="1" fill="#86a660"/>
<rect x="334.84" y="228.9" width="2.31" height="89.1" fill="#acd084"/>
<rect x="334.84" y="228.9" width="0.9" height="89.1" fill="#7e9e58"/>
<rect x="336.70" y="229.9" width="0.45" height="88.1" fill="#e2eed0"/>
<rect x="334.84" y="228.9" width="2.31" height="1" fill="#7e9e58"/>
<rect x="337.15" y="229.8" width="2.31" height="88.2" fill="#b4d490"/>
<rect x="337.15" y="229.8" width="0.9" height="88.2" fill="#86a660"/>
<rect x="337.15" y="229.8" width="2.31" height="1" fill="#86a660"/>
<rect x="339.45" y="230.8" width="2.31" height="87.2" fill="#acd084"/>
<rect x="339.45" y="230.8" width="0.8" height="87.2" fill="#789852"/>
<rect x="339.45" y="230.8" width="2.31" height="1" fill="#789852"/>
<rect x="341.76" y="232.0" width="2.31" height="86.0" fill="#7680b6"/>
<rect x="341.76" y="232.0" width="0.8" height="86.0" fill="#3a4476"/>
<rect x="343.62" y="233.0" width="0.45" height="85.0" fill="#d0d8ee"/>
<rect x="341.76" y="232.0" width="2.31" height="1" fill="#3a4476"/>
<rect x="344.07" y="233.1" width="2.31" height="84.9" fill="#b4d490"/>
<rect x="344.07" y="233.1" width="0.8" height="84.9" fill="#86a660"/>
<rect x="346.07" y="234.1" width="0.3" height="83.9" fill="#e2eed0"/>
<rect x="344.07" y="233.1" width="2.31" height="1" fill="#86a660"/>
<rect x="346.37" y="234.3" width="2.31" height="83.7" fill="#bcda98"/>
<rect x="346.37" y="234.3" width="0.8" height="83.7" fill="#789852"/>
<rect x="346.37" y="234.3" width="2.31" height="1" fill="#789852"/>
<rect x="348.68" y="235.4" width="2.31" height="82.6" fill="#acd084"/>
<rect x="348.68" y="235.4" width="1.0" height="82.6" fill="#789852"/>
<rect x="350.54" y="236.4" width="0.45" height="81.6" fill="#e2eed0"/>
<rect x="348.68" y="235.4" width="2.31" height="1" fill="#789852"/>
<rect x="350.99" y="236.3" width="2.31" height="81.7" fill="#7680b6"/>
<rect x="350.99" y="236.3" width="0.8" height="81.7" fill="#404a7e"/>
<rect x="352.99" y="237.3" width="0.3" height="80.7" fill="#d0d8ee"/>
<rect x="350.99" y="236.3" width="2.31" height="1" fill="#404a7e"/>
<rect x="353.29" y="237.1" width="2.31" height="80.9" fill="#acd084"/>
<rect x="353.29" y="237.1" width="1.0" height="80.9" fill="#7e9e58"/>
<rect x="355.15" y="238.1" width="0.45" height="79.9" fill="#e2eed0"/>
<rect x="353.29" y="237.1" width="2.31" height="1" fill="#7e9e58"/>
  <!-- highlighted bar -->
  <rect x="134.1" y="184.9" width="6.6" height="3.6" fill="#e4f2b8" stroke="#a4ba62" stroke-width="1"/>
</svg>
<!-- y labels -->
<div class="yl" style="top:60px">60</div>
<div class="yl" style="top:102.5px">50</div>
<div class="yl" style="top:145px">40</div>
<div class="yl" style="top:230.5px">20</div>
<div class="yl" style="top:273px">10</div>
<div class="yl" style="top:315.5px">0</div>
<!-- 30.5 label -->
<div class="a" style="left:24.5px;top:182.5px;width:17.5px;height:10.5px;background:#fff;border:1px solid #e0e0e0;box-shadow:0 1px 1px #ddd;font-size:6.4px;line-height:8.5px;color:#606060;text-align:center">30.5</div>
<!-- axis title -->
<div class="a" style="left:15.8px;top:64.8px;transform:translate(-50%,-50%) rotate(-90deg) scaleX(1.12);font-size:7.6px;color:#333;white-space:nowrap">Lin</div>
<div class="a" style="left:13.7px;top:52.5px;font-size:4px;color:#666">&#9656;</div>
<div class="a" style="left:13.7px;top:75.8px;font-size:4px;color:#666">&#9666;</div>
<div class="a" style="left:15.4px;top:290.4px;transform:translate(-50%,-50%) rotate(-90deg) scaleX(1.12);font-size:7.2px;font-weight:bold;color:#484848;white-space:nowrap">Phenotype</div>
<div class="a" style="left:31.6px;top:321.3px;font-size:7.7px;color:#262626;-webkit-text-stroke:0.1px #262626;white-space:nowrap">Order: Phenotype</div>
<div class="a" style="left:186.7px;top:334.7px;font-size:7px;color:#7a7a7a;white-space:nowrap">2/3/09</div>
<div class="a" style="left:349px;top:322px;font-size:5px;color:#888">&#9662;</div>
<div class="a" style="left:29px;top:332px;width:329px;height:1px;background:#f6f6f6"></div>
<div class="a" style="left:7px;top:30px;width:0.8px;height:326px;background:#f6f6ef"></div>
<!-- tooltip -->
<div class="a" style="left:74.4px;top:162.4px;width:124.8px;height:12.1px;background:#fefef6;border:1px solid #cdd78c;box-shadow:0 1px 1px rgba(0,0,0,0.12);font-size:7.9px;font-weight:bold;color:#222;line-height:10px;padding-left:2px;white-space:nowrap"><span style="display:inline-block;transform:scaleY(1.17);-webkit-text-stroke:0.2px #222">Kno-10 ID:6927 Phenotype:30.5.</span></div>
<!-- top-right chart icons -->
<div class="a" style="left:328.6px;top:43.4px;width:14.4px;height:9.6px;border:1px solid #e2e2e2;border-radius:1.5px;background:#fbfbfb"></div>
<svg class="a" style="left:329px;top:44px" width="26" height="10">
  <circle cx="5.2" cy="5.6" r="0.9" fill="#666"/><circle cx="7.8" cy="4.4" r="1" fill="#555"/><circle cx="6.2" cy="3.4" r="0.7" fill="#999"/>
  <rect x="18" y="2.2" width="0.8" height="5.6" fill="#777"/><rect x="20.6" y="4" width="0.8" height="3.8" fill="#888"/><rect x="22.3" y="5" width="0.8" height="2.8" fill="#888"/>
</svg>
<!-- right panel -->
<div class="a" style="left:354.5px;top:42.7px;width:1px;height:285px;background:#e8e8e8"></div>
<div class="a" style="left:359px;top:53px;font-size:5.4px;color:#b0b0b0">Color</div>
<div class="a" style="left:375px;top:57.8px;width:56px;height:0.8px;background:#ececec"></div>
<div class="a" style="left:360.6px;top:61.8px;font-size:7.8px;color:#1a1a1a;-webkit-text-stroke:0.15px #1a1a1a">Allele</div>
<div class="a" style="left:429px;top:62px;font-size:5px;color:#555">&#9662;</div>
<div class="a" style="left:361px;top:73.3px;width:4.6px;height:4.3px;background:#3c4688"></div>
<div class="a" style="left:367.5px;top:72.6px;font-size:5px;color:#9aa0c8">C</div>
<div class="a" style="left:361px;top:79.5px;width:4.6px;height:4.3px;background:#8cac48"></div>
<div class="a" style="left:367.5px;top:78.8px;font-size:5px;color:#888">G</div>
<div class="a" style="left:359px;top:89.3px;font-size:5.6px;color:#b4b4b4">Select</div>
<div class="a" style="left:357px;top:97px;width:79px;height:230.5px;border:1px solid #c8c8c8;background:#fff"></div>
<div class="a" style="left:428.5px;top:98px;width:6.5px;height:228.5px;background:#fcfcfc;border-left:1px solid #dcdcdc"></div>
<div class="a" style="left:429px;top:104.5px;width:6px;height:27px;background:#fdfdfd;border:1px solid #bbb;border-radius:1px"></div>
<div class="a" style="left:429.8px;top:98px;font-size:4.5px;color:#222">&#9650;</div>
<div class="a" style="left:429.8px;top:319.5px;font-size:4.5px;color:#222">&#9660;</div>
<div class="row" style="top:96.30px"><span class="cb"></span><span class="lt g">Aa-0 ID:7000 Phenotype:Na...</span></div>
<div class="row" style="top:105.17px"><span class="cb"></span><span class="lt">Ag-0 ID:6897 Phenotype:26...</span></div>
<div class="row" style="top:114.04px"><span class="cb"></span><span class="lt">Ak-0 ID:6988 Phenotype:2...</span></div>
<div class="row" style="top:122.91px"><span class="cb"></span><span class="lt">Algutsrum ID:8230 Phenoty...</span></div>
<div class="row" style="top:131.78px"><span class="cb"></span><span class="lt">An-1 ID:6898 Phenotype:20...</span></div>
<div class="row" style="top:140.65px"><span class="cb"></span><span class="lt">Ang-0 ID:8254 Phenotype:2...</span></div>
<div class="row" style="top:149.52px"><span class="cb"></span><span class="lt g">Ba-1 ID:7028 Phenotype:Na...</span></div>
<div class="row" style="top:158.39px"><span class="cb"></span><span class="lt">Bay-0 ID:6899 Phenotype:2...</span></div>
<div class="row" style="top:167.26px"><span class="cb"></span><span class="lt">Bg-2 ID:6709 Phenotype:26...</span></div>
<div class="row" style="top:176.13px"><span class="cb"></span><span class="lt">Bl-5 ID:6900 Phenotype:33.5...</span></div>
<div class="row" style="top:185.00px"><span class="cb"></span><span class="lt">Bl-7 ID:6901 Phenotype:30.2...</span></div>
<div class="row" style="top:193.87px"><span class="cb"></span><span class="lt">Bla-1 ID:8264 Phenotype:22...</span></div>
<div class="row" style="top:202.74px"><span class="cb"></span><span class="lt">Blh-1 ID:8265 Phenotype:24...</span></div>
<div class="row" style="top:211.61px"><span class="cb"></span><span class="lt">Boo2-1 ID:8266 Phenotype...</span></div>
<div class="row" style="top:220.48px"><span class="cb"></span><span class="lt">Bor-1 ID:5837 Phenotype:2...</span></div>
<div class="row" style="top:229.35px"><span class="cb"></span><span class="lt">Bor-4 ID:6903 Phenotype:2...</span></div>
<div class="row" style="top:238.22px"><span class="cb"></span><span class="lt">Br-0 ID:6904 Phenotype:23...</span></div>
<div class="row" style="top:247.09px"><span class="cb"></span><span class="lt g">Bro1-6 ID:8231 Phenotype...</span></div>
<div class="row" style="top:255.96px"><span class="cb"></span><span class="lt">Bs-1 ID:8270 Phenotype:24...</span></div>
<div class="row" style="top:264.83px"><span class="cb"></span><span class="lt">Bu-0 ID:8271 Phenotype:26...</span></div>
<div class="row" style="top:273.70px"><span class="cb"></span><span class="lt g">Buckhorn Pass ID:7000 Phe...</span></div>
<div class="row" style="top:282.57px"><span class="cb"></span><span class="lt">Bur-0 ID:6905 Phenotype:3...</span></div>
<div class="row" style="top:291.44px"><span class="cb"></span><span class="lt">BÅ1-2 ID:8256 Phenotype:3...</span></div>
<div class="row" style="top:300.31px"><span class="cb"></span><span class="lt">BÅ4-1 ID:8258 Phenotype:3...</span></div>
<div class="row" style="top:309.18px"><span class="cb"></span><span class="lt">BÅ5-1 ID:8259 Phenotype:3...</span></div>
<div class="row" style="top:318.05px"><span class="cb"></span><span class="lt">C24 ID:6906 Phenotype:38...</span></div>
<!-- cursor -->
<svg class="a" style="left:136px;top:221.5px" width="8" height="11"><path d="M0.7 0.7 L0.7 8.2 L2.5 6.5 L3.8 9.5 L5.2 8.9 L4 6 L6.6 6 Z" fill="#fff" stroke="#111" stroke-width="0.8" stroke-linejoin="round"/></svg>
<!-- wrench -->
<svg class="a" style="left:427px;top:344px" width="9" height="9">
  <path d="M1.1 6.7 L3.7 4" stroke="#333" stroke-width="1.7" stroke-linecap="round" fill="none"/>
  <path d="M4.5 1.3 L3.7 4 L6.5 3.6" stroke="#333" stroke-width="1.5" stroke-linecap="round" stroke-linejoin="round" fill="none"/>
</svg>
<div id="lbar" class="a"></div>
<div id="rbar" class="a"></div>
<div id="bline" class="a"></div>
</body></html>
